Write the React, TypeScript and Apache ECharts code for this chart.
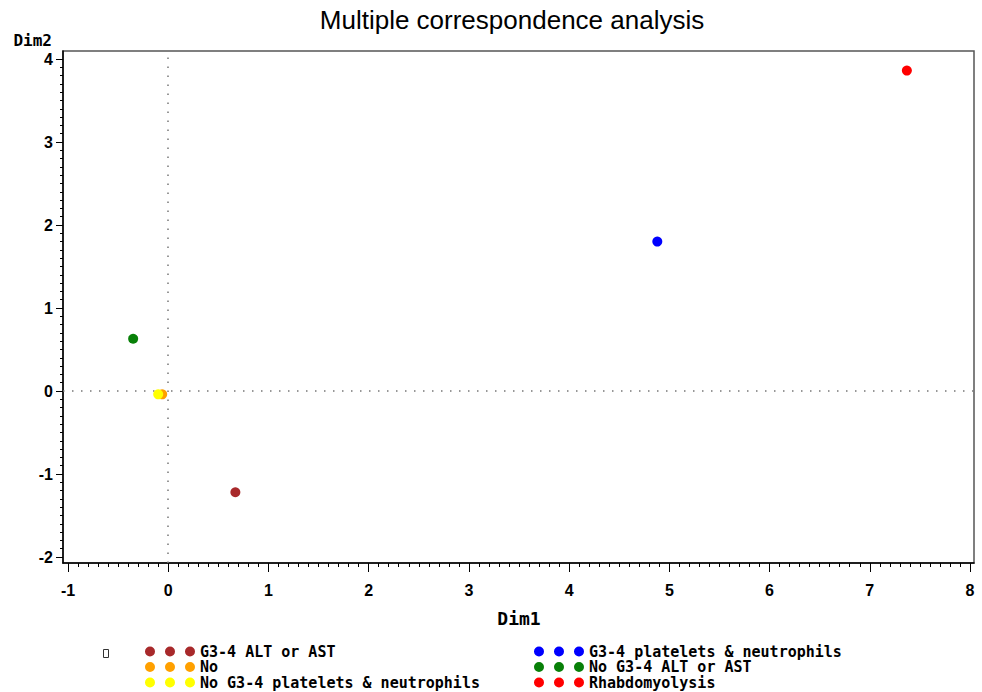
import React, { useEffect, useRef } from "react";
import * as echarts from "echarts";

const categories = [
  "G3-4 ALT or AST",
  "No",
  "No G3-4 platelets & neutrophils",
  "G3-4 platelets & neutrophils",
  "No G3-4 ALT or AST",
  "Rhabdomyolysis",
];
const dim1Values = [0.67, -0.06, -0.1, 4.88, -0.35, 7.37];
const dim2Values = [-1.22, -0.04, -0.04, 1.8, 0.63, 3.86];
const pointColors = ["#a8292b", "#ffa000", "#ffff00", "#0000ff", "#088008", "#ff0000"];
const xTickRange = [-1, 8];
const yTickRange = [-2, 4];

const legendIcon =
  "path://M0,5A5,5,0,1,0,10,5A5,5,0,1,0,0,5ZM20,5A5,5,0,1,0,30,5A5,5,0,1,0,20,5ZM40,5A5,5,0,1,0,50,5A5,5,0,1,0,40,5Z";

export default function App() {
  const ref = useRef<HTMLDivElement>(null);
  useEffect(() => {
    if (!ref.current) return;
    const chart = echarts.init(ref.current, undefined, { renderer: "svg" });
    const W = 982;
    const H = 692;
    const tL = 68, tR = 970, tT = 59, tB = 557;
    const fL = 63, fR = 974, fT = 51, fB = 563;
    const pxX = (tR - tL) / (xTickRange[1] - xTickRange[0]);
    const pxY = (tB - tT) / (yTickRange[1] - yTickRange[0]);
    const fxMin = xTickRange[0] - (tL - fL) / pxX;
    const fxMax = xTickRange[1] + (fR - tR) / pxX;
    const fyMin = yTickRange[0] - (fB - tB) / pxY;
    const fyMax = yTickRange[1] + (tT - fT) / pxY;
    const mono = "DejaVu Sans Mono";
    const sans = "Liberation Sans";
    const labelStyle = { fontFamily: sans, fontWeight: "bold" as const, fontSize: 16, color: "#000" };

    const series: any[] = categories.map((name, i) => ({
      type: "scatter",
      name,
      xAxisIndex: 0,
      yAxisIndex: 0,
      symbol: "circle",
      symbolSize: 10,
      itemStyle: { color: pointColors[i], opacity: 1 },
      data: [[dim1Values[i], dim2Values[i]]],
      z: 5,
    }));
    series[0].markLine = {
      silent: true,
      symbol: "none",
      label: { show: false },
      lineStyle: { color: "#777", width: 1.5, type: [1.5, 7.5] },
      data: [{ xAxis: 0 }, { yAxis: 0 }],
      z: 1,
    };

    const legendBase = {
      top: 639,
      height: 60,
      orient: "vertical",
      itemWidth: 50,
      itemHeight: 10,
      itemGap: 0.5,
      selectedMode: false,
      itemStyle: { opacity: 1 },
      textStyle: { fontFamily: mono, fontWeight: "bold", fontSize: 15, lineHeight: 15, color: "#000" },
    };

    chart.setOption({
      animation: false,
      backgroundColor: "#fff",
      title: {
        text: "Multiple correspondence analysis",
        left: 507,
        textAlign: "center",
        top: 2,
        textStyle: { fontFamily: sans, fontSize: 26, fontWeight: "normal", color: "#000" },
      },
      grid: [
        {
          left: fL,
          top: fT,
          right: W - fR,
          bottom: H - fB,
          show: true,
          borderColor: "#555",
          borderWidth: 1.5,
          backgroundColor: "transparent",
        },
        {
          left: tL,
          top: tT,
          right: W - tR,
          bottom: H - tB,
          show: false,
        },
      ],
      xAxis: [
        {
          type: "value",
          gridIndex: 0,
          min: fxMin,
          max: fxMax,
          axisLine: { show: true, onZero: false, lineStyle: { color: "#000", width: 1.5 } },
          axisTick: { show: false },
          axisLabel: { show: false },
          splitLine: { show: false },
        },
        {
          type: "value",
          gridIndex: 1,
          min: xTickRange[0],
          max: xTickRange[1],
          interval: 1,
          offset: fB - tB,
          axisLine: { show: false, onZero: false },
          axisTick: { show: true, length: 9, lineStyle: { color: "#000", width: 1 } },
          minorTick: { show: true, splitNumber: 10, length: 4, lineStyle: { color: "#000", width: 1 } },
          axisLabel: { ...labelStyle, margin: 19 },
          splitLine: { show: false },
          name: "Dim1",
          nameLocation: "middle",
          nameGap: 55,
          nameTextStyle: { fontFamily: mono, fontWeight: "bold", fontSize: 18, color: "#000", verticalAlign: "middle" },
        },
      ],
      yAxis: [
        {
          type: "value",
          gridIndex: 0,
          min: fyMin,
          max: fyMax,
          axisLine: { show: true, onZero: false, lineStyle: { color: "#000", width: 1.5 } },
          axisTick: { show: false },
          axisLabel: { show: false },
          splitLine: { show: false },
          name: "Dim2",
          nameLocation: "end",
          nameGap: 11,
          nameTextStyle: {
            fontFamily: mono,
            fontWeight: "bold",
            fontSize: 16,
            color: "#000",
            align: "right",
            verticalAlign: "middle",
            padding: [0, 11, 0, 0],
          },
        },
        {
          type: "value",
          gridIndex: 1,
          min: yTickRange[0],
          max: yTickRange[1],
          interval: 1,
          offset: tL - fL,
          axisLine: { show: false, onZero: false },
          axisTick: { show: true, length: 7, lineStyle: { color: "#000", width: 1 } },
          minorTick: { show: true, splitNumber: 10, length: 3, lineStyle: { color: "#000", width: 1 } },
          axisLabel: { ...labelStyle, margin: 10 },
          splitLine: { show: false },
        },
      ],
      legend: [
        {
          ...legendBase,
          left: 140,
          data: categories.slice(0, 3).map((n) => ({ name: n, icon: legendIcon })),
        },
        {
          ...legendBase,
          left: 529,
          data: categories.slice(3, 6).map((n) => ({ name: n, icon: legendIcon })),
        },
      ],
      graphic: [
        {
          type: "rect",
          left: 101,
          top: 647,
          shape: { width: 5, height: 8 },
          style: { fill: "none", stroke: "#333", lineWidth: 1 },
        },
      ],
      series,
    });
    return () => chart.dispose();
  }, []);
  return (
    <div
      ref={ref}
      style={{ position: "absolute", left: 0, top: 0, width: 982, height: 692 }}
    />
  );
}
